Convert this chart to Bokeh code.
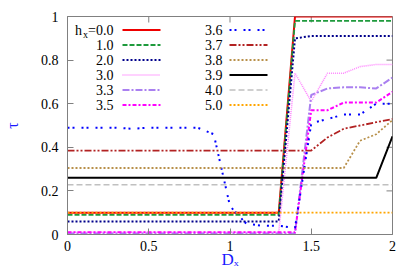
from bokeh.plotting import figure
from bokeh.models import Range1d, FixedTicker
from bokeh.embed import file_html
from bokeh.resources import INLINE
from bokeh.core.properties import value

# ---------------- data ----------------
D = [0.0, 0.1, 0.2, 0.3, 0.4, 0.5, 0.6, 0.7, 0.8, 0.9, 1.0,
     1.1, 1.2, 1.3, 1.4, 1.5, 1.6, 1.7, 1.8, 1.9, 2.0]

tau_h00 = [0.10, 0.10, 0.10, 0.10, 0.10, 0.10, 0.10, 0.10, 0.10, 0.10, 0.10,
           0.10, 0.10, 0.10, 1.00, 1.00, 1.00, 1.00, 1.00, 1.00, 1.00]
tau_h10 = [0.09, 0.09, 0.09, 0.09, 0.09, 0.09, 0.09, 0.09, 0.09, 0.09, 0.09,
           0.09, 0.09, 0.09, 0.98, 0.98, 0.98, 0.98, 0.98, 0.98, 0.98]
tau_h20 = [0.06, 0.06, 0.06, 0.06, 0.06, 0.06, 0.06, 0.06, 0.06, 0.06, 0.06,
           0.06, 0.06, 0.06, 0.90, 0.91, 0.91, 0.91, 0.91, 0.91, 0.91]
tau_h30 = [0.01, 0.01, 0.01, 0.01, 0.01, 0.01, 0.01, 0.01, 0.01, 0.01, 0.01,
           0.01, 0.01, 0.01, 0.74, 0.61, 0.74, 0.74, 0.77, 0.78, 0.78]
tau_h33 = [0.005, 0.005, 0.005, 0.005, 0.005, 0.005, 0.005, 0.005, 0.005, 0.005, 0.005,
           0.005, 0.005, 0.005, 0.005, 0.64, 0.67, 0.675, 0.675, 0.67, 0.72]
tau_h35 = [0.01, 0.01, 0.01, 0.01, 0.01, 0.01, 0.01, 0.01, 0.01, 0.01, 0.01,
           0.01, 0.01, 0.01, 0.01, 0.57, 0.57, 0.605, 0.605, 0.605, 0.655]
tau_h36 = [0.49, 0.49, 0.49, 0.49, 0.485, 0.49, 0.49, 0.49, 0.49, 0.46, 0.13,
           0.05, 0.04, 0.04, 0.03, 0.51, 0.53, 0.55, 0.55, 0.60, 0.60]
tau_h37 = [0.385, 0.385, 0.385, 0.385, 0.385, 0.385, 0.385, 0.385, 0.385, 0.385, 0.385,
           0.385, 0.385, 0.385, 0.385, 0.385, 0.445, 0.485, 0.50, 0.515, 0.53]
tau_h38 = [0.305, 0.305, 0.305, 0.305, 0.305, 0.305, 0.305, 0.305, 0.305, 0.305, 0.305,
           0.305, 0.305, 0.305, 0.305, 0.305, 0.305, 0.305, 0.43, 0.46, 0.525]
tau_h39 = [0.26, 0.26, 0.26, 0.26, 0.26, 0.26, 0.26, 0.26, 0.26, 0.26, 0.26,
           0.26, 0.26, 0.26, 0.26, 0.26, 0.26, 0.26, 0.26, 0.26, 0.45]
tau_h40 = [0.228, 0.228, 0.228, 0.228, 0.228, 0.228, 0.228, 0.228, 0.228, 0.228, 0.228,
           0.228, 0.228, 0.228, 0.228, 0.228, 0.228, 0.228, 0.228, 0.228, 0.228]
tau_h50 = [0.10, 0.10, 0.10, 0.10, 0.10, 0.10, 0.10, 0.10, 0.10, 0.10, 0.10,
           0.10, 0.10, 0.10, 0.10, 0.10, 0.10, 0.10, 0.10, 0.10, 0.10]

hx_labels = ["0.0", "1.0", "2.0", "3.0", "3.3", "3.5",
             "3.6", "3.7", "3.8", "3.9", "4.0", "5.0"]
x_ticks = [0, 0.5, 1, 1.5, 2]
y_ticks = [0, 0.2, 0.4, 0.6, 0.8, 1]
x_title = "Dₓ"
y_title = "τ"

# styles: (values, color, dash, width)
series = [
    (tau_h00, "#ee0000", "solid", 2.0),
    (tau_h10, "#1e9a3c", "5 2", 1.8),
    (tau_h20, "#00008b", "2 2", 2.0),
    (tau_h30, "#ff88ff", "1 1", 1.6),
    (tau_h33, "#aa80f0", "7 2 2 2", 2.0),
    (tau_h35, "#ff00ff", "4 2 2 2", 2.0),
    (tau_h36, "#0000ff", "2 3 2 7", 2.0),
    (tau_h37, "#b22222", "7 2 2 2 2 2", 1.8),
    (tau_h38, "#b8904a", "2 2", 1.8),
    (tau_h39, "#000000", "solid", 2.0),
    (tau_h40, "#c0c0c0", "6 3", 1.6),
    (tau_h50, "#ffa500", "2 2", 1.8),
]

FONT = "Liberation Serif"
SERIF = value(FONT)
GRAY = "#808080"
BLUE = "#1a1aff"

p = figure(frame_width=325, frame_height=218, output_backend="svg",
           toolbar_location=None, x_range=Range1d(0, 2), y_range=Range1d(0, 1),
           min_border_left=67, min_border_right=16, min_border_top=16,
           min_border_bottom=30)
p.grid.visible = False
p.outline_line_color = GRAY
p.outline_line_width = 1
p.background_fill_color = "white"
p.border_fill_color = "white"

for ax, ticks in ((p.xaxis[0], x_ticks), (p.yaxis[0], y_ticks)):
    ax.ticker = FixedTicker(ticks=ticks)
    ax.major_label_overrides = {t: ("%g" % t) for t in ticks}
    ax.major_tick_in = 6
    ax.major_tick_out = 0
    ax.minor_tick_line_color = None
    ax.axis_line_color = GRAY
    ax.major_tick_line_color = GRAY
    ax.major_label_text_font = FONT
    ax.major_label_text_font_size = "14px"
    ax.major_label_text_color = "black"
    ax.axis_label_text_font = FONT
    ax.axis_label_text_font_style = "normal"
    ax.axis_label_text_color = BLUE
p.xaxis[0].major_label_standoff = 6
p.yaxis[0].major_label_standoff = 9

p.xaxis[0].axis_label = x_title
p.xaxis[0].axis_label_text_font_size = "17px"
p.xaxis[0].axis_label_standoff = -4
p.yaxis[0].axis_label = y_title
p.yaxis[0].axis_label_text_font_size = "16px"
p.yaxis[0].axis_label_standoff = 17

# mirrored inward ticks on the top and right borders (6 px long)
tx_len = 6 / 218.0
ty_len = 6 / 162.5
p.segment(x0=x_ticks, y0=[1.0] * len(x_ticks), x1=x_ticks,
          y1=[1.0 - tx_len] * len(x_ticks), line_color=GRAY, line_width=1)
p.segment(x0=[2.0] * len(y_ticks), y0=y_ticks, x1=[2.0 - ty_len] * len(y_ticks),
          y1=y_ticks, line_color=GRAY, line_width=1)

for ys, color, dash, w in series:
    p.line(D, ys, line_color=color, line_dash=dash, line_width=w)

# ---------------- legend (reference pixel layout -> data) ----------------
def rx(px):
    return (px - 67) / 162.5

def ry_(py):
    return (234 - py) / 218.0

for i, (lab, (ys, color, dash, w)) in enumerate(zip(hx_labels, series)):
    col, row = divmod(i, 6)
    ry = 29.5 + 15 * row
    tx = 113 if col == 0 else 222
    sx0, sx1 = (122, 160) if col == 0 else (229, 267)
    txt = "=" + lab if i == 0 else lab
    p.text(x=[rx(tx)], y=[ry_(ry)], text=[txt], text_align="right",
           text_baseline="middle", text_font=SERIF, text_font_size="14px",
           text_color="black")
    if i == 0:
        p.text(x=[rx(87.5)], y=[ry_(ry + 4)], text=["x"], text_align="right",
               text_baseline="middle", text_font=SERIF, text_font_size="10px",
               text_color="black")
        p.text(x=[rx(81.5)], y=[ry_(ry)], text=["h"], text_align="right",
               text_baseline="middle", text_font=SERIF, text_font_size="14px",
               text_color="black")
    p.segment(x0=[rx(sx0)], y0=[ry_(ry)], x1=[rx(sx1)], y1=[ry_(ry)],
              line_color=color, line_dash=dash, line_width=w)

open("out.html", "w").write(file_html(p, INLINE))
